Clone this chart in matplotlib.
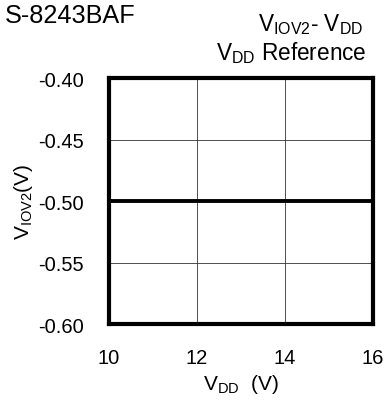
import matplotlib
matplotlib.use("Agg")
import matplotlib.pyplot as plt

# data
vdd = [10, 11, 12, 13, 14, 15, 16]
viov2_minus_vdd = [-0.50, -0.50, -0.50, -0.50, -0.50, -0.50, -0.50]
x_ticks = [10, 12, 14, 16]
y_ticks = [-0.60, -0.55, -0.50, -0.45, -0.40]
y_tick_labels = ["-0.60", "-0.55", "-0.50", "-0.45", "-0.40"]

plt.rcParams['font.family'] = ['Liberation Sans', 'DejaVu Sans']
plt.rcParams['mathtext.fontset'] = 'custom'
plt.rcParams['mathtext.rm'] = 'Liberation Sans'
plt.rcParams['mathtext.it'] = 'Liberation Sans'

fig = plt.figure(figsize=(3.89, 4.10), dpi=100)
ax = fig.add_axes([0.280, 0.207, 0.679, 0.600])

ax.plot(vdd, viov2_minus_vdd, color='black', linewidth=2.8, solid_capstyle='butt')

ax.set_xlim(10, 16)
ax.set_ylim(-0.60, -0.40)
ax.set_xticks(x_ticks)
ax.set_yticks(y_ticks)
ax.set_yticklabels(y_tick_labels)
ax.tick_params(length=0, labelsize=14.5, pad=17)
ax.tick_params(axis='y', pad=18)
ax.grid(True, color='#333333', linewidth=0.6)
for s in ax.spines.values():
    s.set_linewidth(3)

ax.set_xlabel(r'V$_{\mathrm{DD}}$  (V)', fontsize=15, labelpad=4)
ax.set_ylabel(r'V$_{\mathrm{IOV2}}$(V)', fontsize=15, labelpad=2)

fig.text(0.012, 0.944, 'S-8243BAF', fontsize=18.2)
fig.text(0.933, 0.923, r'V$_{\mathrm{IOV2}}$- V$_{\mathrm{DD}}$', fontsize=16.3, ha='right')
fig.text(0.943, 0.854, r'V$_{\mathrm{DD}}$ Reference', fontsize=16.3, ha='right')

fig.savefig('out.png', dpi=100)
